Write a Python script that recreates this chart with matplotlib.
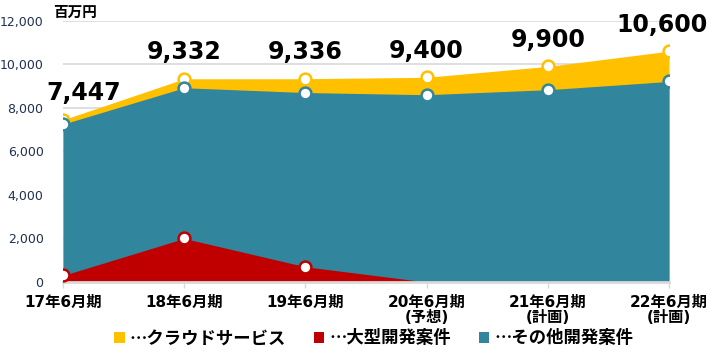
"""Stacked-look area chart of sales by business segment (百万円)."""

import matplotlib

matplotlib.use("Agg")

import matplotlib.pyplot as plt
from matplotlib.patches import Patch

plt.rcParams["font.family"] = ["DejaVu Sans", "Noto Sans CJK JP"]

periods = [
    "17年6月期",
    "18年6月期",
    "19年6月期",
    "20年6月期\n(予想)",
    "21年6月期\n(計画)",
    "22年6月期\n(計画)",
]
total = [7447, 9332, 9336, 9400, 9900, 10600]
other_dev = [7250, 8920, 8700, 8600, 8830, 9210]
large_dev = [300, 2000, 700, 0, 0, 0]
large_marked = 3  # markers only for the actual periods

yellow = "#FFC000"
red = "#C00000"
teal = "#31859C"
grid_gray = "#D9D9D9"

fig = plt.figure(figsize=(7.19, 3.53), dpi=100)
ax = fig.add_axes([0.0876, 0.2011, 0.8429, 0.7403])

x = list(range(len(periods)))

ax.fill_between(x, 0, total, color=yellow, linewidth=0, zorder=2)
ax.fill_between(x, 0, other_dev, color=teal, linewidth=0, zorder=3)
ax.fill_between(x, 0, large_dev, color=red, linewidth=0, zorder=4)

marker_kw = dict(linestyle="none", marker="o", markersize=8.5,
                 markerfacecolor="white", markeredgewidth=1.8, zorder=6)
ax.plot(x, total, markeredgecolor=yellow, **marker_kw)
ax.plot(x, other_dev, markeredgecolor=teal, **marker_kw)
ax.plot(x[:large_marked], large_dev[:large_marked], markeredgecolor=red, **marker_kw)

# end labels are nudged inward so they stay inside the plot
label_dx = [15, 0, 0, 0, 0, -5]
for xi, v, dx in zip(x, total, label_dx):
    ax.annotate(f"{v:,}", (xi, v), xytext=(dx, 14), textcoords="offset points",
                ha="center", va="baseline", fontsize=17, fontweight="bold",
                color="black", zorder=7, annotation_clip=False)

ax.set_xlim(0, len(periods) - 1)
ax.set_ylim(0, 12000)
ax.set_yticks(range(0, 12001, 2000))
ax.set_yticklabels([f"{v:,}" for v in range(0, 12001, 2000)])
ax.yaxis.grid(True, color=grid_gray, linewidth=1.2, zorder=0)
ax.set_axisbelow(True)

ax.set_xticks(x)
ax.set_xticklabels(periods, fontweight="bold", fontsize=11,
                   linespacing=1.05, color="black")
ax.tick_params(axis="x", length=4, color=grid_gray, width=1, pad=5)
ax.tick_params(axis="y", length=0, pad=14, labelsize=9, labelcolor="#1F3050")

for side in ("top", "right", "left"):
    ax.spines[side].set_visible(False)
ax.spines["bottom"].set_color(grid_gray)
ax.spines["bottom"].set_linewidth(2)
ax.spines["bottom"].set_zorder(5)

fig.text(0.074, 0.965, "百万円", fontsize=10.5, fontweight="bold",
         ha="left", va="center")

handles = [
    Patch(facecolor=yellow, label="…クラウドサービス"),
    Patch(facecolor=red, label="…大型開発案件"),
    Patch(facecolor=teal, label="…その他開発案件"),
]
fig.legend(handles=handles, loc="center", bbox_to_anchor=(0.52, 0.042), ncol=3,
           frameon=False, handlelength=0.6, handleheight=0.6, handletextpad=0.3,
           columnspacing=1.6, prop={"family": ["Noto Sans CJK JP"],
                                    "weight": "bold", "size": 12.5})

fig.savefig("out.png", dpi=100)
